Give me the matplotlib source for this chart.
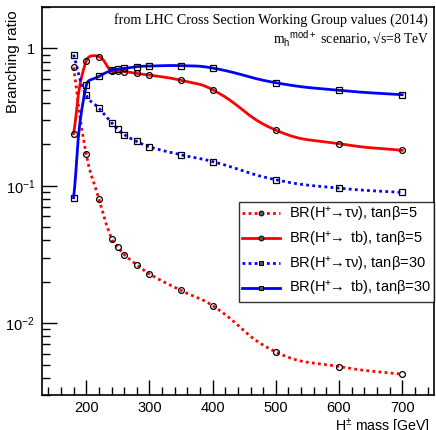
import numpy as np
import matplotlib
matplotlib.use("Agg")
import matplotlib.pyplot as plt
from matplotlib.ticker import FixedLocator, FixedFormatter, NullFormatter

# ------------------------------------------------------------
# data
# ------------------------------------------------------------
mass = [180, 200, 220, 240, 250, 260, 280, 300, 350, 400, 500, 600, 700]

br_taunu_tb5 = [0.727, 0.170, 0.0804, 0.0413, 0.0357, 0.0316, 0.0266,
                0.0228, 0.0173, 0.0134, 0.00618, 0.00483, 0.00425]
br_tb_tb5 = [0.240, 0.814, 0.870, 0.684, 0.680, 0.678, 0.657,
             0.640, 0.585, 0.500, 0.254, 0.202, 0.181]
br_taunu_tb30 = [0.900, 0.457, 0.367, 0.288, 0.257, 0.236, 0.210,
                 0.192, 0.168, 0.150, 0.1106, 0.0961, 0.0894]
br_tb_tb30 = [0.0818, 0.538, 0.625, 0.691, 0.707, 0.715, 0.736,
              0.743, 0.748, 0.719, 0.562, 0.495, 0.460]

labels = [r"BR(H$^{+}\!\!\rightarrow\!\tau\nu$), tan$\beta$=5",
          r"BR(H$^{+}\!\!\rightarrow$ tb), tan$\beta$=5",
          r"BR(H$^{+}\!\!\rightarrow\!\tau\nu$), tan$\beta$=30",
          r"BR(H$^{+}\!\!\rightarrow$ tb), tan$\beta$=30"]

ytick_vals = [0.01, 0.1, 1]
ytick_labels = [r"10$^{-2}$", r"10$^{-1}$", "1"]


def smooth(x, y, n=40, c=1.4):
    """cardinal spline through the points, in screen-like units"""
    P = np.column_stack([np.asarray(x, float) * 0.63,
                         np.log10(np.asarray(y, float)) * 137.3])
    t = np.concatenate([[0], np.cumsum(np.hypot(*np.diff(P, axis=0).T))])
    k = len(P)
    m = np.zeros_like(P)
    m[0] = (P[1] - P[0]) / (t[1] - t[0])
    m[-1] = (P[-1] - P[-2]) / (t[-1] - t[-2])
    for i in range(1, k - 1):
        m[i] = c * (P[i + 1] - P[i - 1]) / (t[i + 1] - t[i - 1])
    pts = []
    s = np.linspace(0, 1, n)[:, None]
    h00 = 2 * s**3 - 3 * s**2 + 1
    h10 = s**3 - 2 * s**2 + s
    h01 = -2 * s**3 + 3 * s**2
    h11 = s**3 - s**2
    for i in range(k - 1):
        h = t[i + 1] - t[i]
        pts.append(h00 * P[i] + h10 * h * m[i] + h01 * P[i + 1] + h11 * h * m[i + 1])
    pts = np.vstack(pts)
    return pts[:, 0] / 0.63, 10 ** (pts[:, 1] / 137.3)


plt.rcParams["font.family"] = ["Liberation Sans", "DejaVu Sans"]
plt.rcParams["mathtext.fontset"] = "custom"
plt.rcParams["mathtext.rm"] = "Liberation Sans"
plt.rcParams["mathtext.it"] = "Liberation Sans"
plt.rcParams["mathtext.sf"] = "Liberation Sans"

fig = plt.figure(figsize=(4.36, 4.30), dpi=100)
ax = fig.add_axes([0.0963, 0.0814, 0.8987, 0.9023])

series = [
    (br_taunu_tb5, "#ff0000", (0, (1.0, 1.2)), "o"),
    (br_tb_tb5, "#ff0000", "-", "o"),
    (br_taunu_tb30, "#0000ff", (0, (1.0, 1.2)), "s"),
    (br_tb_tb30, "#0000ff", "-", "s"),
]

for (vals, col, ls, mk), lab in zip(series, labels):
    xs, ys = smooth(mass, vals)
    ax.plot(xs, ys, color=col, ls=ls, lw=2.0)
    ax.plot(mass, vals, ls="none", marker=mk, ms=4.2, mfc="none",
            mec="black", mew=0.9)
    # legend proxy
    ax.plot([], [], color=col, ls=ls, lw=2.0, marker=mk, ms=3.5,
            mfc="#555555", mec="black", mew=0.7, label=lab)

ax.set_yscale("log")
ax.set_xlim(130, 750)
ax.set_ylim(0.003, 2.0)

ax.xaxis.set_major_locator(FixedLocator([200, 300, 400, 500, 600, 700]))
ax.xaxis.set_minor_locator(FixedLocator(np.arange(140, 750, 20)))
ax.yaxis.set_major_locator(FixedLocator(ytick_vals))
ax.yaxis.set_major_formatter(FixedFormatter(ytick_labels))
minors = [m * 10.0**e for e in (-3, -2, -1, 0) for m in range(2, 10)]
ax.yaxis.set_minor_locator(FixedLocator(minors))
ax.yaxis.set_minor_formatter(NullFormatter())

ax.tick_params(which="both", direction="in", top=False, right=False,
               labelsize=10.5, width=1.0)
ax.tick_params(which="major", length=11, pad=5)
ax.tick_params(axis="x", which="major", pad=4)
ax.tick_params(which="minor", length=5.5)
for s in ax.spines.values():
    s.set_linewidth(1.2)

ax.set_ylabel("Branching ratio", fontsize=11, loc="top")
ax.yaxis.set_label_coords(-0.056, 0.992)
ax.set_xlabel(r"H$^{\pm}$ mass [GeV]", fontsize=10.2, loc="right")
ax.xaxis.set_label_coords(0.99, -0.055)

ax.text(0.985, 0.985, "from LHC Cross Section Working Group values (2014)",
        transform=ax.transAxes, ha="right", va="top",
        family="Liberation Serif", fontsize=10.2)
ax.text(0.99, 0.903, "m$_{\\rm h}$$^{\\rm mod+}$ scenario, \u221As=8 TeV",
        transform=ax.transAxes, ha="right", va="baseline",
        family="Liberation Serif", fontsize=9.8)

leg = ax.legend(loc="upper right", bbox_to_anchor=(1.0, 0.498),
                fontsize=10.5, frameon=True, fancybox=False,
                edgecolor="black", handlelength=2.6, borderpad=0.22,
                labelspacing=0.4, handletextpad=0.6, borderaxespad=0.0)
leg.get_frame().set_linewidth(1.0)

fig.savefig("out.png", dpi=100)
